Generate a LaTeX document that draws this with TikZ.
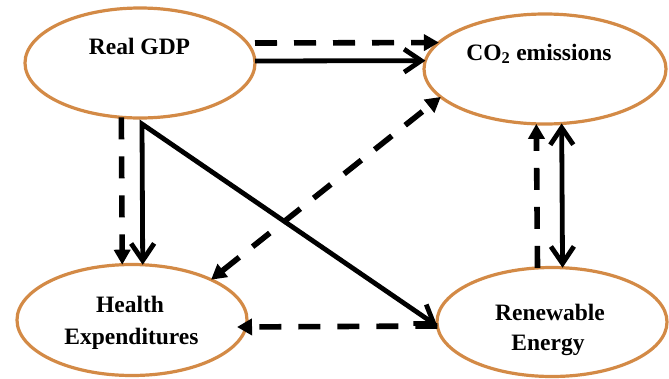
\documentclass[tikz,border=0pt]{standalone}
\usepackage{fontspec}
\setmainfont{Liberation Serif}
\usetikzlibrary{arrows.meta,shapes.geometric}
\definecolor{elc}{RGB}{211,138,70}
\tikzset{
  ft/.tip={Triangle[length=15pt,width=16pt]},
  bt/.tip={Straight Barb[length=17pt,width=23pt]},
}
\begin{document}
\begin{tikzpicture}[x=1pt,y=-1pt,
  el/.style={ellipse, draw=elc, line width=3.2pt, inner sep=0pt, outer sep=0pt},
  lbl/.style={anchor=base, inner sep=0pt, font=\fontsize{23.5}{32}\selectfont\bfseries},
  dsh/.style={line width=5.6pt, dash pattern=on 22pt off 17pt},
  sol/.style={line width=4.8pt, line join=miter},
]
\useasboundingbox (0,0) rectangle (669,378);
% ellipses
\node[el, minimum width=230pt, minimum height=110pt] (gdp) at (140,63) {};
\node[el, minimum width=242pt, minimum height=110pt] (co2) at (545,69) {};
\node[el, minimum width=230pt, minimum height=111pt] (hea) at (132,320) {};
\node[el, minimum width=230pt, minimum height=109pt] (ren) at (552,322) {};
% labels
\node[lbl] (gdpt) at (139.5,54) {Real GDP};
\node[lbl] (co2t) at (539,60) {CO\textsubscript{2} emissions};
\node[lbl] (heat1) at (130,312) {Health};
\node[lbl] (heat2) at (131.5,344) {Expenditures};
\node[lbl] (rent1) at (550,320) {Renewable};
\node[lbl] (rent2) at (548,350) {Energy};
% connectors
\coordinate (split) at (142,124);
\draw[dsh, -ft] ([yshift=20pt]gdp.east) -- (co2.166.3);
\draw[sol, -bt] ([yshift=2pt]gdp.east) -- (co2.176.2);
\draw[dsh, -ft] (gdp.251.7) -- (hea.100.2);
\draw[sol, bt-bt] (hea.79.8) -- (split) -- (ren.182.5);
\draw[dsh, -ft] (ren.182.5) -- ([shift={(-10pt,-7pt)}]hea.east);
\draw[dsh, ft-ft] (hea.27.7) -- (co2.195.2);
\draw[dsh, -ft] (ren.105.5) -- (co2.261.7);
\draw[sol, bt-bt] (ren.79.5) -- (co2.287.4);
\end{tikzpicture}
\end{document}
